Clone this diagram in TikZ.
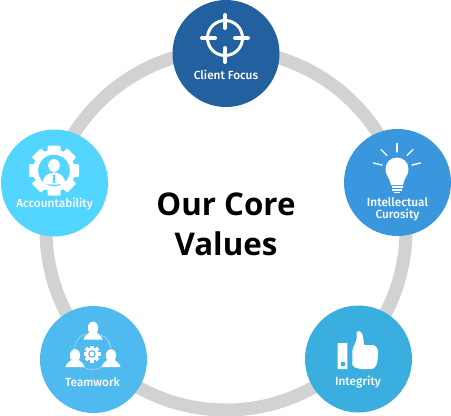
\documentclass[tikz,border=0pt]{standalone}
\usepackage{fontspec}
\setmainfont{Fira Sans}[BoldFont={Fira Sans Medium}]
\newfontfamily\titlefont{Open Sans}
\usetikzlibrary{positioning}
\definecolor{ringgray}{HTML}{D2D2D2}
\definecolor{clientblue}{HTML}{23609F}
\definecolor{intelblue}{HTML}{3A97DD}
\definecolor{acctblue}{HTML}{52D5FF}
\definecolor{teamblue}{HTML}{4FBAF0}
\definecolor{integblue}{HTML}{3AAEDF}
\begin{document}
\begin{tikzpicture}[x=1pt,y=-1pt,
  value/.style={circle,minimum size=107pt,inner sep=0pt},
  tag/.style={text=white,font=\fontsize{11.8}{12}\selectfont\bfseries,align=center,inner sep=0pt},
  icon/.style={fill=white,draw=none},
  ray/.style={draw=white,line width=1.4pt,line cap=round}]
\useasboundingbox (0,0) rectangle (451,416);
% ring behind the five discs
\node[circle,draw=ringgray,line width=13pt,minimum size=360pt,inner sep=0pt] (ring) at (226,230) {};
\foreach \n/\x/\y/\c in {client/226/53.5/clientblue,intel/397.5/182.5/intelblue,
    acct/54.5/183/acctblue,team/93.5/359.5/teamblue,integ/358.5/359/integblue}{
  \node[value,fill=\c] (\n) at (\x,\y) {};
}
\node[font=\titlefont\bfseries\fontsize{31.3}{40}\selectfont,align=center,inner sep=0pt] (title) at (226,224.5) {Our Core\\Values};
\node[tag] (clientlab) at (226,75) {Client Focus};
\node[tag] (intellab) at (397.5,209) {Intellectual\\Curosity};
\node[tag] (acctlab) at (54.5,204) {Accountability};
\node[tag] (teamlab) at (92.5,382) {Teamwork};
\node[tag] (integlab) at (358,382) {Integrity};
% crosshair
\draw[white,line width=3pt] (225,38) circle (17.5);
\foreach \xa/\ya/\xb/\yb in {225/15/225/28,225/48/225/62,202/38/215/38,235/38/248/38}{
  \draw[white,line width=4pt,line cap=round] (\xa,\ya) -- (\xb,\yb);
}
% bulb
\fill[icon] (391,185) .. controls (390,178) and (385.5,176) .. (385.5,169)
  .. controls (385.5,162) and (391,157.5) .. (397,157.5)
  .. controls (403,157.5) and (408.5,162) .. (408.5,169)
  .. controls (408.5,176) and (404,178) .. (403,185) -- cycle;
\foreach \xa/\xb/\yy in {391.5/402.5/187,392/402/190,394/400/192.5}{
  \draw[white,line width=1.2pt] (\xa,\yy) -- (\xb,\yy);
}
\foreach \xa/\ya/\xb/\yb in {397/143.5/397/152,381/149.5/387/155.5,413/149.5/407/155.5,
    373.5/163/382/165,420.5/163/412/165}{
  \draw[ray] (\xa,\ya) -- (\xb,\yb);
}
% gear with person
\foreach \a in {0,45,...,315}{
  \fill[icon,shift={(54,170.5)},rotate=\a,rounded corners=1pt] (-6.5,-25) rectangle (6.5,-17);
}
\fill[icon] (54,170.5) circle (21);
\fill[acctblue] (54,170.5) circle (15.8);
\fill[icon] (54,165.5) ellipse (5.8 and 6.5);
\fill[icon] (43,183.5) .. controls (43,175) and (48,173.5) .. (54,172.5)
  .. controls (60,173.5) and (65,175) .. (65,183.5)
  .. controls (60,185) and (48,185) .. (43,183.5) -- cycle;
\fill[acctblue] (53.2,174.5) -- (54.8,174.5) -- (55.3,183) -- (52.7,183) -- cycle;
% team of three around small gear
\draw[white,line width=0.6pt,dash pattern=on 1.5pt off 1.5pt] (92.5,351) circle (18.5);
\foreach \x/\y in {93/328,75/355.5,111/355.5}{
  \fill[teamblue] (\x,\y+1) ellipse (8 and 8);
  \fill[icon] (\x,\y) ellipse (5.2 and 6.3);
  \fill[icon] (\x-9.5,\y+11.5) .. controls (\x-9,\y+7) and (\x-4,\y+6) .. (\x-3,\y+3)
    -- (\x+3,\y+3) .. controls (\x+4,\y+6) and (\x+9,\y+7) .. (\x+9.5,\y+11.5) -- cycle;
}
\foreach \a in {0,45,...,315}{
  \fill[icon,shift={(92,354)},rotate=\a] (-1.8,-8.5) rectangle (1.8,-5);
}
\fill[icon] (92,354) circle (6.3);
\fill[teamblue] (92,354) circle (3.8);
\fill[icon] (92,354) circle (2.4);
% thumbs up
\fill[icon,rounded corners=0.5pt] (337.7,343) rectangle (347.3,369);
\fill[integblue] (343,364) circle (2.4);
\fill[icon,rounded corners=2pt] (352.3,349.3) -- (356.7,340) -- (356.5,331) -- (361.7,331.5)
  -- (364,341.7) -- (363.3,345) -- (375,345) -- (378.3,350) -- (377.3,363.3) -- (374,369)
  -- (361.7,369.3) -- (352.3,366.7) -- cycle;
\end{tikzpicture}
\end{document}
